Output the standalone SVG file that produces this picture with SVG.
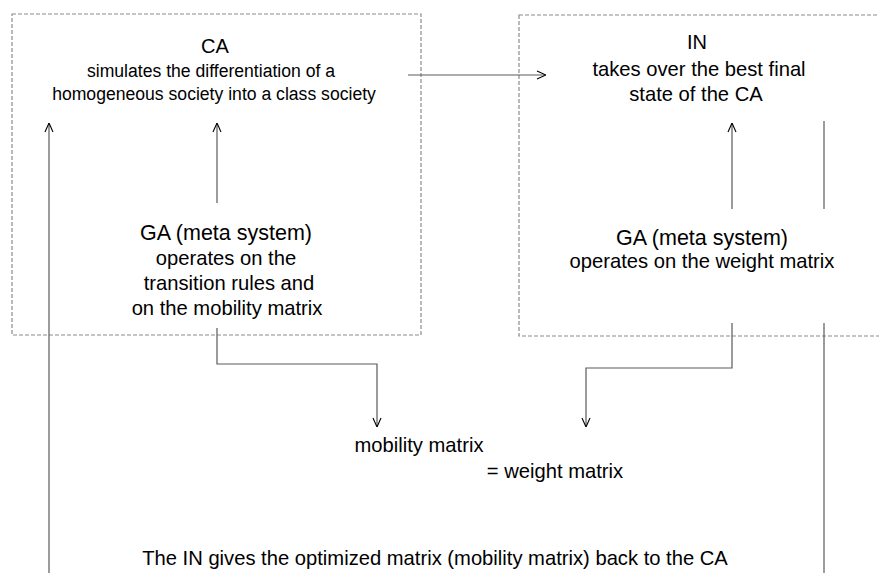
<svg xmlns="http://www.w3.org/2000/svg" width="879" height="573" viewBox="0 0 879 573">
<defs>
<marker id="arr" viewBox="0 0 10 10" refX="10" refY="5" markerWidth="10" markerHeight="10" markerUnits="userSpaceOnUse" orient="auto">
<path d="M1,1 L10,5 L1,9" fill="none" stroke="#000" stroke-width="1.1"/>
</marker>
</defs>
<style>
.box{fill:none;stroke:#8c8c8c;stroke-width:1.2;stroke-dasharray:4,2}
.ln{fill:none;stroke:#5a5a5a;stroke-width:1.2}
text{font-family:"Liberation Sans",Arial,sans-serif;fill:#000;text-anchor:middle}
.t{font-size:20px}
.g{font-size:21.5px}
.s{font-size:17.6px}
.b{font-size:20.2px}
</style>
<rect width="879" height="573" fill="#fff"/>
<g id="ca">
<rect class="box" x="12" y="14" width="409" height="321"/>
<text class="t" x="215" y="53">CA</text>
<text class="s" x="211" y="77">simulates the differentiation of a</text>
<text class="s" x="214" y="100">homogeneous society into a class society</text>
</g>
<g id="in">
<rect class="box" x="519" y="15" width="380" height="321"/>
<text class="t" x="697" y="49">IN</text>
<text class="b" x="699" y="76">takes over the best final</text>
<text class="b" x="696" y="101">state of the CA</text>
</g>
<g id="ga-ca">
<text class="g" x="226" y="240">GA (meta system)</text>
<text class="b" x="226" y="265">operates on the</text>
<text class="b" x="229" y="290">transition rules and</text>
<text class="b" x="227" y="315">on the mobility matrix</text>
</g>
<g id="ga-in">
<text class="g" x="702" y="245">GA (meta system)</text>
<text class="b" x="702" y="268">operates on the weight matrix</text>
</g>
<g id="matrix">
<text class="b" x="419" y="452">mobility matrix</text>
<text class="b" x="555" y="478">= weight matrix</text>
</g>
<g id="feedback">
<text class="b" x="435" y="565">The IN gives the optimized matrix (mobility matrix) back to the CA</text>
</g>
<g id="connectors">
<path class="ln" d="M408,75 H546" marker-end="url(#arr)"/>
<path class="ln" d="M49,573 V123" marker-end="url(#arr)"/>
<path class="ln" d="M217,203 V123" marker-end="url(#arr)"/>
<path class="ln" d="M217,328 V364 H377 V427" marker-end="url(#arr)"/>
<path class="ln" d="M732,209 V123" marker-end="url(#arr)"/>
<path class="ln" d="M824,121 V209"/>
<path class="ln" d="M732,323 V368 H586 V427" marker-end="url(#arr)"/>
<path class="ln" d="M824,323 V573"/>
</g>
</svg>
